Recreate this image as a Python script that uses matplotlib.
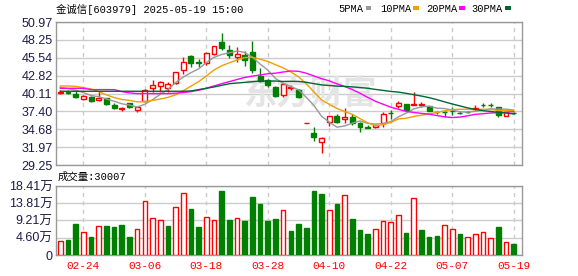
import numpy as np
import pandas as pd
import matplotlib
matplotlib.use("Agg")
import matplotlib.pyplot as plt
from matplotlib.patches import Rectangle

# daily candles, 60 trading days (02-19 .. 05-19)
opens = [40.2, 40.4, 40.1, 39.3, 39.6, 39.1, 39.4, 38.4, 37.7, 38.6,
         37.6, 38.9, 41.0, 41.2, 41.0, 41.7, 43.7, 45.8, 44.9, 44.7,
         46.06, 47.93, 46.72, 45.7, 45.96, 46.36, 42.77, 42.16, 41.15, 39.88,
         41.0, 40.64, 35.67, 34.16, 32.79, 35.83, 36.69, 36.2, 36.59, 35.68,
         35.07, 34.97, 35.58, 37.2, 38.2, 38.5, 38.4, 38.3, 38.17, 37.35,
         37.35, 37.5, 37.2, 37.35, 37.75, 38.35, 38.35, 38.0, 36.65, 37.2]
closes = [40.4, 40.2, 39.6, 39.8, 39.0, 39.5, 38.5, 37.9, 37.85, 38.0,
          38.0, 40.6, 41.4, 41.9, 41.6, 43.3, 44.85, 44.7, 44.8, 46.31,
          47.32, 47.07, 46.01, 46.11, 45.2, 43.68, 41.96, 41.4, 39.73, 41.55,
          41.1, 39.63, 35.67, 33.55, 33.3, 36.63, 35.83, 36.59, 35.68, 34.97,
          34.82, 35.27, 36.95, 37.1, 38.67, 37.65, 38.5, 38.55, 37.5, 37.25,
          37.3, 37.4, 37.15, 37.3, 37.85, 38.3, 38.32, 36.9, 37.3, 37.15]
highs = [40.6, 40.6, 40.64, 39.9, 39.8, 40.5, 39.5, 38.6, 38.1, 38.7,
         38.1, 40.8, 42.2, 42.0, 41.9, 43.4, 45.6, 45.9, 45.3, 46.4,
         47.4, 49.35, 47.53, 47.22, 46.62, 48.08, 43.93, 42.3, 41.2, 41.6,
         41.4, 40.8, 35.67, 34.97, 33.55, 36.69, 37.0, 37.86, 37.0, 35.8,
         35.3, 35.4, 37.35, 37.65, 38.9, 38.55, 40.34, 38.75, 38.25, 37.45,
         37.45, 38.0, 37.45, 37.5, 38.3, 38.67, 38.6, 38.0, 37.3, 37.3]
lows = [40.0, 40.0, 39.47, 39.1, 38.8, 39.0, 38.3, 37.7, 37.5, 37.9,
        37.3, 38.8, 40.4, 40.4, 40.4, 41.5, 43.1, 44.1, 44.2, 44.4,
        46.0, 46.72, 45.55, 44.94, 44.34, 43.27, 41.9, 41.15, 39.6, 39.53,
        40.7, 39.4, 35.67, 32.9, 31.12, 35.23, 35.68, 35.58, 35.33, 34.31,
        34.8, 34.9, 35.07, 36.28, 37.9, 37.55, 38.3, 38.0, 37.4, 37.05,
        36.6, 36.9, 36.95, 37.1, 37.65, 38.0, 38.05, 36.6, 36.65, 36.95]

# volume in 万 shares, and whether the day closed up
volumes = [3.74, 4.0, 8.27, 6.14, 4.8, 7.65, 7.74, 7.47, 8.0, 4.8,
           6.85, 14.32, 9.78, 9.25, 7.74, 12.72, 16.45, 12.27, 7.47, 10.05,
           9.25, 17.08, 9.34, 9.78, 9.07, 15.48, 13.6, 9.07, 9.6, 11.92,
           6.4, 8.27, 7.2, 17.08, 16.28, 11.92, 13.6, 16.0, 9.6, 6.67,
           5.6, 6.85, 9.07, 8.72, 10.67, 5.96, 15.21, 6.67, 4.8, 5.07,
           8.0, 6.94, 5.69, 4.8, 5.6, 6.14, 4.54, 7.47, 3.47, 3.0007]
vol_up = [1, 0, 0, 1, 0, 1, 0, 0, 0, 0,
          1, 1, 1, 1, 0, 1, 1, 0, 0, 1,
          1, 0, 0, 1, 0, 0, 0, 0, 0, 1,
          0, 0, 0, 0, 0, 1, 0, 1, 0, 0,
          0, 1, 1, 1, 1, 0, 1, 0, 0, 0,
          1, 1, 0, 1, 1, 1, 1, 0, 1, 0]

# moving-average values for the first bars (window reaches before the chart)
ma5_head = [41.05, 40.85, 40.6, 40.25]
ma10_head = [41.25, 41.25, 41.2, 41.0, 40.8, 40.4, 39.9, 39.5, 39.2]
ma20_head = [40.9, 40.9, 40.9, 40.9, 40.7, 40.7, 40.7, 40.7, 40.4, 40.2,
             40.1, 40.1, 40.1, 40.1, 40.1, 40.15, 40.25, 40.4, 40.6]
ma30_head = [40.45, 40.45, 40.45, 40.45, 40.45, 40.45, 40.45, 40.45, 40.45, 40.45,
             40.45, 40.45, 40.45, 40.45, 40.45, 40.45, 40.45, 40.5, 40.7, 40.9,
             41.1, 41.35, 41.6, 41.7, 41.8, 41.9, 42.0, 42.0, 42.0]

date_idx = [3, 11, 19, 27, 35, 43, 51, 59]
date_labels = ["02-24", "03-06", "03-18", "03-28", "04-10", "04-22", "05-07", "05-19"]
price_ticks = [29.25, 31.97, 34.68, 37.40, 40.11, 42.82, 45.54, 48.25, 50.97]
price_labels = ["29.25", "31.97", "34.68", "37.40", "40.11", "42.82", "45.54", "48.25", "50.97"]
vol_ticks = [0, 4.60, 9.21, 13.81, 18.41]
vol_labels = ["0", "4.60万", "9.21万", "13.81万", "18.41万"]

title = "金诚信[603979] 2025-05-19 15:00"
vol_title = "成交量:30007"

RED = "#ff0000"
GREEN = "#008000"
GRID = "#cccccc"
FRAME = "#999999"
LABEL = "#1c1c4c"

plt.rcParams["font.family"] = ["Liberation Sans", "Noto Sans CJK SC"]
MONO = ["Liberation Mono", "Noto Sans CJK SC"]

W, H = 578, 276
def fx(px):
    return px / W
def fy(py):
    return 1 - py / H

fig = plt.figure(figsize=(5.78, 2.76), dpi=100)
ax = fig.add_axes([fx(56), fy(165), (522 - 56) / W, (165 - 22) / H])
axv = fig.add_axes([fx(56), fy(255), (522 - 56) / W, (255 - 186) / H])

n = len(closes)
x = np.arange(n)
cs = pd.Series(closes)

def moving_avg(win, head):
    m = cs.rolling(win).mean().to_numpy()
    m[:win - 1] = head
    return m

mas = [(moving_avg(5, ma5_head), "#999999"),
       (moving_avg(10, ma10_head), "#f0a000"),
       (moving_avg(20, ma20_head), "#ff00ff"),
       (moving_avg(30, ma30_head), "#006633")]

for a in (ax, axv):
    a.set_xlim(-0.56, n + 0.08)
    for s in a.spines.values():
        s.set_color(FRAME)
        s.set_linewidth(1)
    a.set_axisbelow(True)
    a.yaxis.grid(True, color=GRID, lw=1)
    for d in date_idx:
        a.axvline(d, color=GRID, lw=1, ls=(0, (3, 3)), zorder=0.6)
    a.tick_params(length=0, labelsize=9, labelcolor=LABEL, pad=2.5)

# watermark
ax.text(fx(310), fy(95), "东方财富", transform=fig.transFigure, ha="center", va="center",
        fontsize=24, fontweight="bold", color="#e4e4e4", family="Noto Sans CJK SC", zorder=0.7)

# candles
bw = 0.64
for i in range(n):
    o, c, h, l = opens[i], closes[i], highs[i], lows[i]
    up = c >= o
    col = RED if up else GREEN
    ax.vlines(x[i], l, h, color=col, lw=1, zorder=2)
    ax.bar(x[i], abs(c - o), bottom=min(o, c), width=bw,
           facecolor="white" if up and abs(c - o) > 0.2 else col,
           edgecolor=col, lw=1, zorder=3)

for m, col in mas:
    ax.plot(x, m, color=col, lw=1, zorder=4)

ax.set_ylim(29.25, 50.97)
ax.set_yticks(price_ticks)
ax.set_yticklabels(price_labels)
ax.set_xticks([])

# volume
for i in range(n):
    if vol_up[i]:
        axv.bar(x[i], volumes[i], width=0.6, facecolor="white", edgecolor=RED, lw=1, zorder=3)
    else:
        axv.bar(x[i], volumes[i], width=0.6, facecolor=GREEN, edgecolor=GREEN, lw=1, zorder=3)
axv.set_ylim(0, 18.41)
axv.set_yticks(vol_ticks)
axv.set_yticklabels(vol_labels)
axv.set_xticks(date_idx)
axv.set_xticklabels(date_labels, color=RED, family=MONO, fontsize=8)
axv.tick_params(axis="x", pad=4.5)

# header texts
fig.text(fx(56), fy(9.5), title, family=MONO, fontsize=7.5, va="center", ha="left", color="black")
fig.text(fx(58), fy(177), vol_title, family=MONO, fontsize=7.5, va="center", ha="left", color="black")
legend = [("5PMA", 338, 365.5), ("10PMA", 380, 413.3), ("20PMA", 426, 459.3), ("30PMA", 471.7, 505)]
for (lab, tx, sx), (m, col) in zip(legend, mas):
    fig.text(fx(tx), fy(9.5), lab, family=MONO, fontsize=7.5, va="center", ha="left", color="black")
    fig.patches.append(Rectangle((fx(sx), fy(9.5)), 5.5 / W, 3 / H, transform=fig.transFigure,
                                 facecolor=col, edgecolor="none"))

fig.savefig("out.png", dpi=100)
